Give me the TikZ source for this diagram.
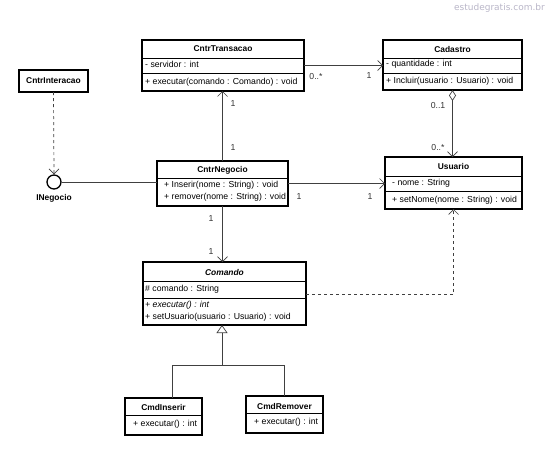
\documentclass[tikz,border=0pt]{standalone}
\usepackage{fontspec}
\setmainfont{Liberation Sans}
\newfontfamily\wmfont{DejaVu Sans}
\usetikzlibrary{arrows.meta}
\definecolor{wmgray}{RGB}{185,182,200}

\begin{document}
\begin{tikzpicture}[
    x=1pt, y=-1pt,
    every node/.append style = {font=\fontsize{8.7}{10}\selectfont, inner sep=0pt},
    classbox/.style = {draw, line width=1.4pt, outer sep=0pt, anchor=north west},
    classname/.style = {font=\fontsize{8.4}{10}\selectfont\bfseries},
    member/.style = {anchor=west},
    mult/.style = {text=black!80},
    link/.style = {draw=black!75, line width=0.7pt},
    divider/.style = {line width=0.7pt},
    openarrow/.style = {-{Straight Barb[length=5pt,width=10pt]}},
  ]
  \useasboundingbox (0,0) rectangle (546,448);
  %%+++++++++++++++++++++++++
  % Watermark
  \node[font=\wmfont\fontsize{9}{10}\selectfont, text=wmgray, anchor=east] (watermark) at (545,8) {estudegratis.com.br};
  %%+++++++++++++++++++++++++
  % Classes
  % CntrTransacao
  \node[classbox, minimum width=162, minimum height=51] (transacao) at (142,40) {};
  \draw[divider] (transacao.west |- 0,58) -- (transacao.east |- 0,58);
  \draw[divider] (transacao.west |- 0,73) -- (transacao.east |- 0,73);
  \node[classname] (transacaoName) at (223,49) {CntrTransacao};
  \node[member] (transacaoAttr) at (145,64.5) {- servidor : int};
  \node[member] (transacaoOp) at (145,82) {+ executar(comando : Comando) : void};
  % Cadastro
  \node[classbox, minimum width=139, minimum height=50] (cadastro) at (383,40) {};
  \draw[divider] (cadastro.west |- 0,58) -- (cadastro.east |- 0,58);
  \draw[divider] (cadastro.west |- 0,73) -- (cadastro.east |- 0,73);
  \node[classname] (cadastroName) at (452.5,49) {Cadastro};
  \node[member] (cadastroAttr) at (386,64.5) {- quantidade : int};
  \node[member] (cadastroOp) at (386,81.5) {+ Incluir(usuario : Usuario) : void};
  % CntrInteracao
  \node[classbox, minimum width=69, minimum height=22] (interacao) at (19,70) {};
  \node[classname] (interacaoName) at (53.5,81) {CntrInteracao};
  % INegocio
  \node[circle, draw, line width=1.3pt, minimum size=14] (inegocio) at (54,182) {};
  \node[classname, below=5pt] (inegocioName) at (inegocio.south) {INegocio};
  % CntrNegocio
  \node[classbox, minimum width=131, minimum height=45] (negocio) at (157,161) {};
  \draw[divider] (negocio.west |- 0,178) -- (negocio.east |- 0,178);
  \node[classname] (negocioName) at (222.5,170.5) {CntrNegocio};
  \node[member] (negocioOpA) at (164,185.5) {+ Inserir(nome : String) : void};
  \node[member] (negocioOpB) at (164,197.5) {+ remover(nome : String) : void};
  % Usuario
  \node[classbox, minimum width=137, minimum height=52] (usuario) at (385,157) {};
  \draw[divider] (usuario.west |- 0,176) -- (usuario.east |- 0,176);
  \draw[divider] (usuario.west |- 0,191) -- (usuario.east |- 0,191);
  \node[classname] (usuarioName) at (453.5,166) {Usuario};
  \node[member] (usuarioAttr) at (392,183.5) {- nome : String};
  \node[member] (usuarioOp) at (392,200) {+ setNome(nome : String) : void};
  % Comando
  \node[classbox, minimum width=163, minimum height=63] (comando) at (143,262) {};
  \draw[divider] (comando.west |- 0,281) -- (comando.east |- 0,281);
  \draw[divider] (comando.west |- 0,298) -- (comando.east |- 0,298);
  \node[classname, font=\fontsize{8.4}{10}\selectfont\bfseries\itshape] (comandoName) at (224.5,272) {Comando};
  \node[member] (comandoAttr) at (145,289.5) {\# comando : String};
  \node[member, font=\fontsize{8.7}{10}\selectfont\itshape] (comandoOpA) at (145,305.5) {+ executar() : int};
  \node[member] (comandoOpB) at (145,317) {+ setUsuario(usuario : Usuario) : void};
  % CmdInserir
  \node[classbox, minimum width=77, minimum height=37] (inserir) at (125,398) {};
  \draw[divider] (inserir.west |- 0,415) -- (inserir.east |- 0,415);
  \node[classname] (inserirName) at (163.5,407.5) {CmdInserir};
  \node[member] (inserirOp) at (133,424.5) {+ executar() : int};
  % CmdRemover
  \node[classbox, minimum width=77, minimum height=37] (remover) at (246,396) {};
  \draw[divider] (remover.west |- 0,413) -- (remover.east |- 0,413);
  \node[classname] (removerName) at (284.5,406) {CmdRemover};
  \node[member] (removerOp) at (254,422.5) {+ executar() : int};
  %%+++++++++++++++++++++++++
  % Associations
  \draw[link, openarrow] (negocio.north) -- (negocio.north |- transacao.south);
  \node[mult] (mTransB) at (233,104) {1};
  \node[mult] (mNegT) at (233,148) {1};
  \draw[link, openarrow] (negocio.south) -- (negocio.south |- comando.north);
  \node[mult] (mNegB) at (211,219) {1};
  \node[mult] (mComT) at (211,251) {1};
  \draw[link, openarrow] (transacao.east) -- (transacao.east -| cadastro.west);
  \node[mult] (mTransR) at (316,76) {0..*};
  \node[mult] (mCadL) at (369,76) {1};
  \draw[link, {Diamond[open,length=11pt,width=7pt]}-{Straight Barb[length=5pt,width=10pt]}] (cadastro.south) -- (cadastro.south |- usuario.north);
  \node[mult] (mCadB) at (438,105) {0..1};
  \node[mult] (mUsuT) at (438,147) {0..*};
  \draw[link, openarrow] (negocio.east) -- (negocio.east -| usuario.west);
  \node[mult] (mNegR) at (299,197) {1};
  \node[mult] (mUsuL) at (370,197) {1};
  % Interface
  \draw[link] (inegocio.east) -- (inegocio.east -| negocio.west);
  \draw[link, dashed, openarrow] (interacao.south) -- (inegocio.north);
  % Dependency
  \coordinate (depStart) at (306,294);
  \draw[link, dashed, openarrow] (depStart) -| (usuario.south);
  % Generalization
  \coordinate (genJoin) at (222,365);
  \coordinate (genLeft) at (172,365);
  \coordinate (genRight) at (284.5,365);
  \draw[link] (genLeft |- inserir.north) -- (genLeft) -- (genRight) -- (remover.north);
  \draw[link, -{Triangle[open,length=8pt,width=11pt]}] (genJoin) -- (genJoin |- comando.south);
\end{tikzpicture}
\end{document}
